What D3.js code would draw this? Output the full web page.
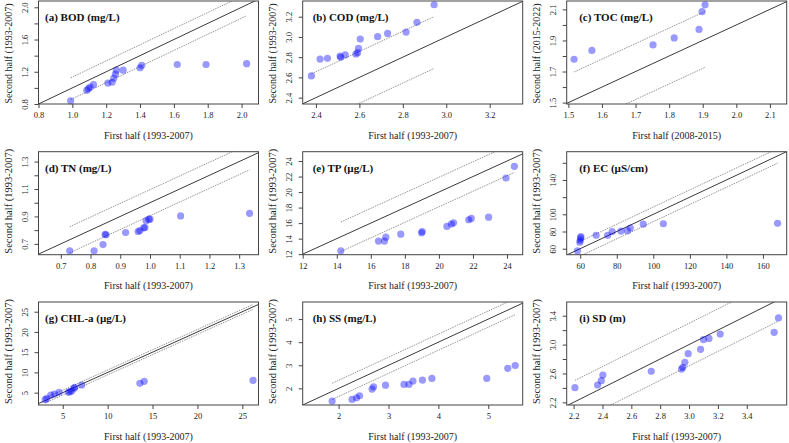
<!DOCTYPE html>
<html><head><meta charset="utf-8">
<script src="https://cdn.jsdelivr.net/npm/d3@7"></script>
<style>
body{margin:0;background:#fff}
svg{display:block}
</style>
</head><body>
<svg id="chart" width="789" height="443"></svg>
<script>
// ---------- data ----------
const panelTitles = ["(a) BOD (mg/L)","(b) COD (mg/L)","(c) TOC (mg/L)","(d) TN (mg/L)","(e) TP (\u00b5g/L)","(f) EC (\u00b5S/cm)","(g) CHL-a (\u00b5g/L)","(h) SS (mg/L)","(i) SD (m)"];
const xTitles = ["First half (1993-2007)","First half (1993-2007)","First half (2008-2015)","First half (1993-2007)","First half (1993-2007)","First half (1993-2007)","First half (1993-2007)","First half (1993-2007)","First half (1993-2007)"];
const yTitles = ["Second half (1993-2007)","Second half (1993-2007)","Second half (2015-2022)","Second half (1993-2007)","Second half (1993-2007)","Second half (1993-2007)","Second half (1993-2007)","Second half (1993-2007)","Second half (1993-2007)"];

const bodX = [0.99,1.085,1.095,1.105,1.125,1.21,1.235,1.245,1.255,1.26,1.30,1.40,1.41,1.62,1.79,2.03];
const bodY = [0.84,0.97,0.99,1.01,1.04,1.06,1.07,1.12,1.17,1.22,1.22,1.25,1.28,1.29,1.29,1.30];
const codX = [2.379,2.419,2.453,2.511,2.514,2.535,2.584,2.592,2.596,2.604,2.684,2.730,2.815,2.865,2.944];
const codY = [2.614,2.781,2.788,2.811,2.798,2.824,2.831,2.844,2.887,2.979,3.002,3.035,3.048,3.144,3.318];
const tocX = [1.517,1.570,1.752,1.815,1.889,1.898,1.907];
const tocY = [1.779,1.836,1.871,1.916,1.971,2.085,2.130];
const tnX = [0.730,0.812,0.842,0.849,0.852,0.918,0.960,0.966,0.979,0.983,0.987,0.996,1.000,1.103,1.335];
const tnY = [0.649,0.649,0.695,0.770,0.766,0.783,0.790,0.797,0.817,0.819,0.868,0.880,0.880,0.904,0.923];
const tpX = [14.24,16.45,16.80,16.88,17.76,18.98,19.02,20.47,20.73,20.86,21.75,21.90,22.92,23.94,24.43];
const tpY = [12.43,13.68,13.68,14.19,14.58,14.75,14.92,15.57,15.87,16.04,16.43,16.60,16.77,21.81,23.31];
const ecX = [58.5,59.8,60.0,60.2,60.4,68.7,75.0,77.5,82.3,85.8,87.4,94.5,105.5,168.0];
const ecY = [57.5,67.5,70.0,72.5,74.0,75.5,75.5,80.0,80.5,81.0,84.0,88.5,89.0,89.5];
const chlX = [3.04,3.22,3.67,4.07,4.59,5.63,5.81,6.00,6.26,6.33,7.11,13.59,14.07,26.19];
const chlY = [3.27,3.60,4.42,4.67,5.08,5.08,5.25,5.41,6.07,6.32,6.89,7.30,7.80,8.05];
const ssX = [1.87,2.27,2.36,2.42,2.67,2.70,2.94,3.31,3.41,3.49,3.68,3.87,4.97,5.39,5.54];
const ssY = [1.45,1.52,1.59,1.68,1.97,2.07,2.14,2.17,2.17,2.32,2.36,2.43,2.43,2.87,2.99];
const sdX = [2.209,2.366,2.392,2.403,2.738,2.948,2.957,2.971,2.994,3.08,3.10,3.138,3.216,3.59,3.62];
const sdY = [2.403,2.44,2.50,2.578,2.629,2.661,2.685,2.754,2.874,2.934,3.07,3.086,3.146,3.17,3.37];

const seriesX = [bodX,codX,tocX,tnX,tpX,ecX,chlX,ssX,sdX];
const seriesY = [bodY,codY,tocY,tnY,tpY,ecY,chlY,ssY,sdY];

// dotted band half-widths around the 1:1 line
const bands = [0.135,0.256,0.18,0.095,1.9,8.5,0.6,0.35,0.295];

// axis limits
const xLims = [[0.80,2.10],[2.339,3.352],[1.495,2.15],[0.625,1.365],[12.0,24.92],[52.6,173],[2.3,26.8],[1.28,5.69],[2.152,3.677]];
const yLims = [[0.80,2.078],[2.337,3.355],[1.491,2.154],[0.621,1.372],[11.93,25.2],[53,172.9],[1.95,27.4],[1.28,5.74],[2.163,3.59]];

// tick values and labels
const xTicks = [[0.8,1.0,1.2,1.4,1.6,1.8,2.0],[2.4,2.6,2.8,3.0,3.2],[1.5,1.6,1.7,1.8,1.9,2.0,2.1],[0.7,0.8,0.9,1.0,1.1,1.2,1.3],[12,14,16,18,20,22,24],[60,80,100,120,140,160],[5,10,15,20,25],[2,3,4,5],[2.2,2.4,2.6,2.8,3.0,3.2,3.4]];
const yTicks = [[0.8,1.0,1.2,1.4,1.6,1.8,2.0],[2.4,2.6,2.8,3.0,3.2],[1.5,1.6,1.7,1.8,1.9,2.0,2.1],[0.7,0.8,0.9,1.0,1.1,1.2,1.3],[12,14,16,18,20,22,24],[60,80,100,120,140,160],[5,10,15,20,25],[2,3,4,5],[2.2,2.4,2.6,2.8,3.0,3.2,3.4]];
const xTickLabels = [["0.8","1.0","1.2","1.4","1.6","1.8","2.0"],["2.4","2.6","2.8","3.0","3.2"],["1.5","1.6","1.7","1.8","1.9","2.0","2.1"],["0.7","0.8","0.9","1.0","1.1","1.2","1.3"],["12","14","16","18","20","22","24"],["60","80","100","120","140","160"],["5","10","15","20","25"],["2","3","4","5"],["2.2","2.4","2.6","2.8","3.0","3.2","3.4"]];
const yTickLabels = [["0.8","","1.2","","1.6","","2.0"],["2.4","2.6","2.8","3.0","3.2"],["1.5","","1.7","","1.9","","2.1"],["0.7","","0.9","","1.1","","1.3"],["12","14","16","18","20","22","24"],["60","80","100","","140",""],["5","10","15","20","25"],["2","3","4","5"],["2.2","","2.6","","3.0","","3.4"]];

// ---------- layout ----------
const FONT = '"Liberation Serif", "Times New Roman", "DejaVu Serif", serif';
const colLeft = [38.5, 302.7, 566.7];
const rowTop = [1, 151.7, 302];
const boxW = 220, boxH = 103;
const labelOffset = [6.5, 10, 12.5];

const svg = d3.select("#chart");

panelTitles.forEach((title, i) => {
  const col = i % 3, row = Math.floor(i / 3);
  const L = colLeft[col], T = rowTop[row];
  const x = d3.scaleLinear().domain(xLims[i]).range([L, L + boxW]);
  const y = d3.scaleLinear().domain(yLims[i]).range([T + boxH, T]);
  const g = svg.append("g");

  const clipId = "clip" + i;
  svg.append("clipPath").attr("id", clipId)
    .append("rect").attr("x", L).attr("y", T).attr("width", boxW).attr("height", boxH);

  const lines = g.append("g").attr("clip-path", `url(#${clipId})`);
  const xmin = d3.min(seriesX[i]), xmax = d3.max(seriesX[i]);
  const d = bands[i];
  const lo = Math.min(xLims[i][0], yLims[i][0]) - 1, hi = Math.max(xLims[i][1], yLims[i][1]) + 1;
  [d, -d].forEach(off => {
    lines.append("line")
      .attr("x1", x(xmin)).attr("y1", y(xmin + off))
      .attr("x2", x(xmax)).attr("y2", y(xmax + off))
      .attr("stroke", "#8a8a8a").attr("stroke-width", 0.9)
      .attr("stroke-dasharray", "1.5,1");
  });
  lines.append("line")
    .attr("x1", x(lo)).attr("y1", y(lo)).attr("x2", x(hi)).attr("y2", y(hi))
    .attr("stroke", "#3a3a3a").attr("stroke-width", 1);

  g.append("g").selectAll("circle")
    .data(seriesX[i].map((v, k) => [v, seriesY[i][k]]))
    .join("circle")
    .attr("cx", p => x(p[0])).attr("cy", p => y(p[1]))
    .attr("r", 3.6).attr("fill", "#0000ff").attr("fill-opacity", 0.4);

  g.append("rect").attr("x", L).attr("y", T).attr("width", boxW).attr("height", boxH)
    .attr("fill", "none").attr("stroke", "#444").attr("stroke-width", 1);

  const xa = g.append("g").attr("transform", `translate(0,${T + boxH})`)
    .call(d3.axisBottom(x).tickValues(xTicks[i]).tickSize(4)
      .tickFormat((v, k) => xTickLabels[i][k]));
  xa.attr("font-family", FONT).attr("font-size", 8.5);
  xa.select(".domain").remove();
  xa.selectAll("line").attr("stroke", "#444");
  xa.selectAll("text").attr("y", 8).attr("dy", "0.71em").attr("fill", "#222");

  const ya = g.append("g").attr("transform", `translate(${L},0)`)
    .call(d3.axisLeft(y).tickValues(yTicks[i]).tickSize(4)
      .tickFormat((v, k) => yTickLabels[i][k]));
  ya.attr("font-family", FONT).attr("font-size", 8.5);
  ya.select(".domain").remove();
  ya.selectAll("line").attr("stroke", "#444");
  ya.selectAll("text")
    .attr("x", 0).attr("y", -11).attr("dy", 0)
    .attr("transform", "rotate(-90)")
    .attr("text-anchor", "middle").attr("fill", "#222");

  g.append("text").attr("x", L + boxW / 2).attr("y", T + boxH + 34.5)
    .attr("text-anchor", "middle").attr("font-family", FONT).attr("font-size", 10)
    .attr("fill", "#222").text(xTitles[i]);
  const yc = row === 0 ? T + boxH / 2 + 1 : T + boxH / 2 - 2;
  g.append("text").attr("transform", "rotate(-90)")
    .attr("x", -yc).attr("y", L - 27)
    .attr("text-anchor", "middle").attr("font-family", FONT)
    .attr("font-size", row === 0 ? 10 : 10.5)
    .attr("fill", "#222").text(yTitles[i]);

  g.append("text").attr("x", L + labelOffset[col]).attr("y", T + 20)
    .attr("font-family", FONT).attr("font-size", 11).attr("font-weight", "bold")
    .attr("fill", "#111").text(title);
});
</script>
</body></html>
